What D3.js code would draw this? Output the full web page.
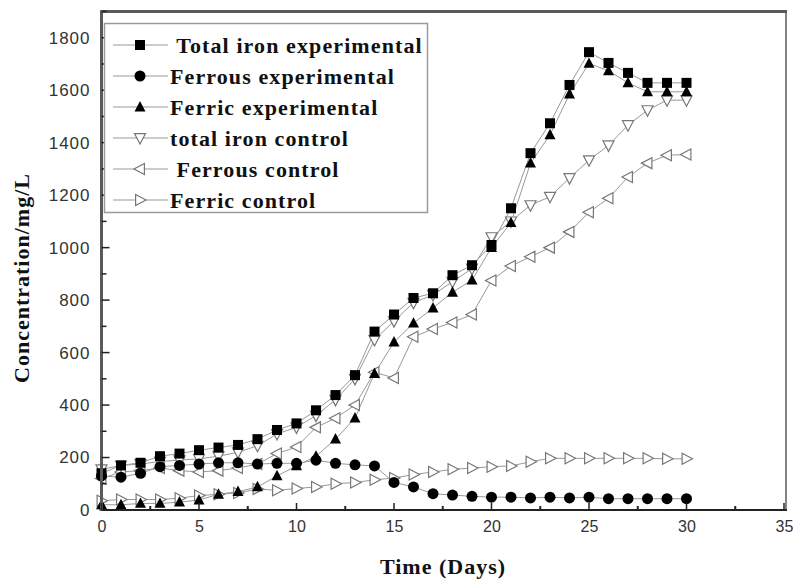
<!DOCTYPE html>
<html>
<head>
<meta charset="utf-8">
<script src="https://cdn.jsdelivr.net/npm/d3@7"></script>
<style>
  html, body { margin: 0; padding: 0; background: #fff; }
  svg { display: block; }
</style>
</head>
<body>
<svg id="chart" width="793" height="579"></svg>
<script>
// Sampling days
const days = d3.range(0, 31);

// Iron species concentrations (mg/L)
const totalIronExp = [140, 170, 180, 205, 215, 228, 238, 248, 270, 305, 330, 380, 438, 514, 680, 745, 808, 826, 895, 933, 1010, 1150, 1360, 1474, 1620, 1745, 1704, 1666, 1628, 1628, 1628];
const ferrousExp   = [130, 125, 140, 165, 170, 175, 180, 180, 175, 178, 178, 190, 178, 172, 168, 105, 88, 62, 57, 52, 49, 49, 46, 49, 46, 49, 43, 43, 43, 43, 43];
const ferricExp    = [20, 20, 25, 25, 30, 38, 60, 70, 88, 130, 168, 205, 270, 350, 520, 640, 712, 770, 830, 876, 1000, 1095, 1322, 1430, 1585, 1702, 1674, 1628, 1594, 1594, 1594];
const totalIronCtl = [155, 170, 175, 185, 190, 195, 205, 220, 245, 290, 315, 360, 420, 500, 648, 720, 790, 820, 870, 920, 1040, 1100, 1162, 1194, 1265, 1333, 1390, 1467, 1524, 1562, 1562];
const ferrousCtl   = [120, 145, 150, 160, 150, 145, 150, 160, 175, 215, 240, 315, 350, 400, 525, 503, 660, 690, 715, 745, 875, 930, 965, 1000, 1060, 1135, 1188, 1269, 1322, 1352, 1355];
const ferricCtl    = [35, 40, 40, 40, 45, 55, 60, 65, 80, 75, 82, 88, 100, 105, 115, 122, 135, 145, 155, 160, 165, 168, 184, 197, 197, 197, 197, 197, 197, 195, 195];

const seriesNames = ["Total iron experimental", "Ferrous experimental", "Ferric experimental",
                     "total iron control", " Ferrous control", "Ferric control"];
const seriesValues = [totalIronExp, ferrousExp, ferricExp, totalIronCtl, ferrousCtl, ferricCtl];
const seriesSymbols = ["square", "circle", "triUp", "triDown", "triLeft", "triRight"];

const xTicks = [0, 5, 10, 15, 20, 25, 30, 35];
const yTicks = [0, 200, 400, 600, 800, 1000, 1200, 1400, 1600, 1800];

const svg = d3.select("#chart");

const plotLeft = 101.5, plotRight = 784, plotTop = 11.5, plotBottom = 510;
const x = d3.scaleLinear().domain([0, 35]).range([plotLeft, plotRight]);
const y = d3.scaleLinear().domain([0, 1900]).range([plotBottom, plotTop]);

const serif = "'Liberation Serif', 'Times New Roman', serif";
const sans = "Arial, 'Liberation Sans', sans-serif";

// Data lines (drawn under markers)
const line = d3.line().x((d, i) => x(days[i])).y(d => y(d));
const plot = svg.append("g");

seriesValues.forEach(vals => {
  plot.append("path")
    .datum(vals)
    .attr("d", line)
    .attr("fill", "none")
    .attr("stroke", "#999")
    .attr("stroke-width", 1);
});

// Marker shapes
function markerPath(kind, s) {
  const h = s / 2;
  switch (kind) {
    case "triUp":    return `M0,${-h * 1.1}L${h},${h * 0.8}L${-h},${h * 0.8}Z`;
    case "triDown":  return `M0,${h * 1.1}L${h},${-h * 0.8}L${-h},${-h * 0.8}Z`;
    case "triLeft":  return `M${-h * 1.1},0L${h * 0.8},${-h}L${h * 0.8},${h}Z`;
    case "triRight": return `M${h * 1.1},0L${-h * 0.8},${-h}L${-h * 0.8},${h}Z`;
  }
}

function drawMarker(g, kind, cx, cy) {
  if (kind === "square") {
    g.append("rect").attr("x", cx - 5).attr("y", cy - 5).attr("width", 10).attr("height", 10)
      .attr("fill", "#000");
  } else if (kind === "circle") {
    g.append("circle").attr("cx", cx).attr("cy", cy).attr("r", 5.5).attr("fill", "#000");
  } else if (kind === "triUp") {
    g.append("path").attr("transform", `translate(${cx},${cy})`).attr("d", markerPath(kind, 11))
      .attr("fill", "#000");
  } else {
    g.append("path").attr("transform", `translate(${cx},${cy})`).attr("d", markerPath(kind, 11))
      .attr("fill", "#fff").attr("stroke", "#777").attr("stroke-width", 1.2);
  }
}

// Draw control series first so experimental markers sit on top
const order = [5, 4, 3, 0, 2, 1];
order.forEach(k => {
  const g = plot.append("g");
  seriesValues[k].forEach((v, i) => drawMarker(g, seriesSymbols[k], x(days[i]), y(v)));
});

// Frame
svg.append("line").attr("x1", plotLeft - 1).attr("x2", 787).attr("y1", plotTop).attr("y2", plotTop)
  .attr("stroke", "#5a5a5a").attr("stroke-width", 3);
svg.append("line").attr("x1", 786).attr("x2", 786).attr("y1", plotTop).attr("y2", plotBottom)
  .attr("stroke", "#5a5a5a").attr("stroke-width", 1.5);

// Axes
const xAxis = d3.axisBottom(x).tickValues(xTicks).tickSize(0).tickPadding(11);
const gx = svg.append("g").attr("transform", `translate(0,${plotBottom})`).call(xAxis);
gx.select(".domain").attr("stroke", "#222").attr("stroke-width", 2)
  .attr("d", `M${plotLeft - 2},0H787`);
gx.selectAll("text").attr("font-family", sans)
  .attr("font-size", 16).attr("fill", "#333");

const yAxis = d3.axisLeft(y).tickValues(yTicks).tickFormat(d3.format("d")).tickSize(0).tickPadding(11);
const gy = svg.append("g").attr("transform", `translate(${plotLeft},0)`).call(yAxis);
gy.select(".domain").attr("stroke", "#5a5a5a").attr("stroke-width", 3)
  .attr("d", `M0,${plotTop - 1}V${plotBottom + 1}`);
gy.selectAll("text").attr("font-family", sans)
  .attr("font-size", 17).attr("letter-spacing", 1).attr("fill", "#333");

// Inward ticks (major and minor)
const tickG = svg.append("g").attr("stroke", "#222");
d3.range(0, 35.01, 2.5).forEach(v => {
  const major = v % 5 === 0;
  tickG.append("line").attr("x1", x(v)).attr("x2", x(v))
    .attr("y1", plotBottom).attr("y2", plotBottom - (major ? 7 : 4))
    .attr("stroke-width", major ? 1.5 : 2);
});
d3.range(0, 1901, 100).forEach(v => {
  const major = v % 200 === 0;
  tickG.append("line").attr("x1", plotLeft).attr("x2", plotLeft + (major ? 8 : 5))
    .attr("y1", y(v)).attr("y2", y(v)).attr("stroke-width", 1.5);
});

// Axis titles
svg.append("text").attr("x", 443).attr("y", 574).attr("text-anchor", "middle")
  .attr("font-family", serif).attr("font-weight", "bold")
  .attr("font-size", 22).attr("letter-spacing", 1).attr("fill", "#111").text("Time (Days)");
svg.append("text").attr("transform", "translate(29,278) rotate(-90)").attr("text-anchor", "middle")
  .attr("font-family", serif).attr("font-weight", "bold")
  .attr("font-size", 22).attr("letter-spacing", 1).attr("fill", "#111").text("Concentration/mg/L");

// Legend
const lg = svg.append("g");
lg.append("rect").attr("x", 104.5).attr("y", 23.5).attr("width", 323).attr("height", 189)
  .attr("fill", "#fff").attr("stroke", "#9a9a9a").attr("stroke-width", 1.5);
const rowY = [45, 76, 107, 138, 169, 200];
seriesNames.forEach((name, k) => {
  const ry = rowY[k];
  lg.append("line").attr("x1", 113).attr("x2", 168).attr("y1", ry).attr("y2", ry)
    .attr("stroke", "#999").attr("stroke-width", 1);
  drawMarker(lg, seriesSymbols[k], 140, ry);
  lg.append("text").attr("x", 170).attr("y", ry + 7.5)
    .attr("xml:space", "preserve")
    .attr("font-family", serif).attr("font-weight", "bold")
    .attr("font-size", 22).attr("letter-spacing", 1.1).attr("fill", "#111")
    .text(k === 0 ? " " + name : name);
});
</script>
</body>
</html>
